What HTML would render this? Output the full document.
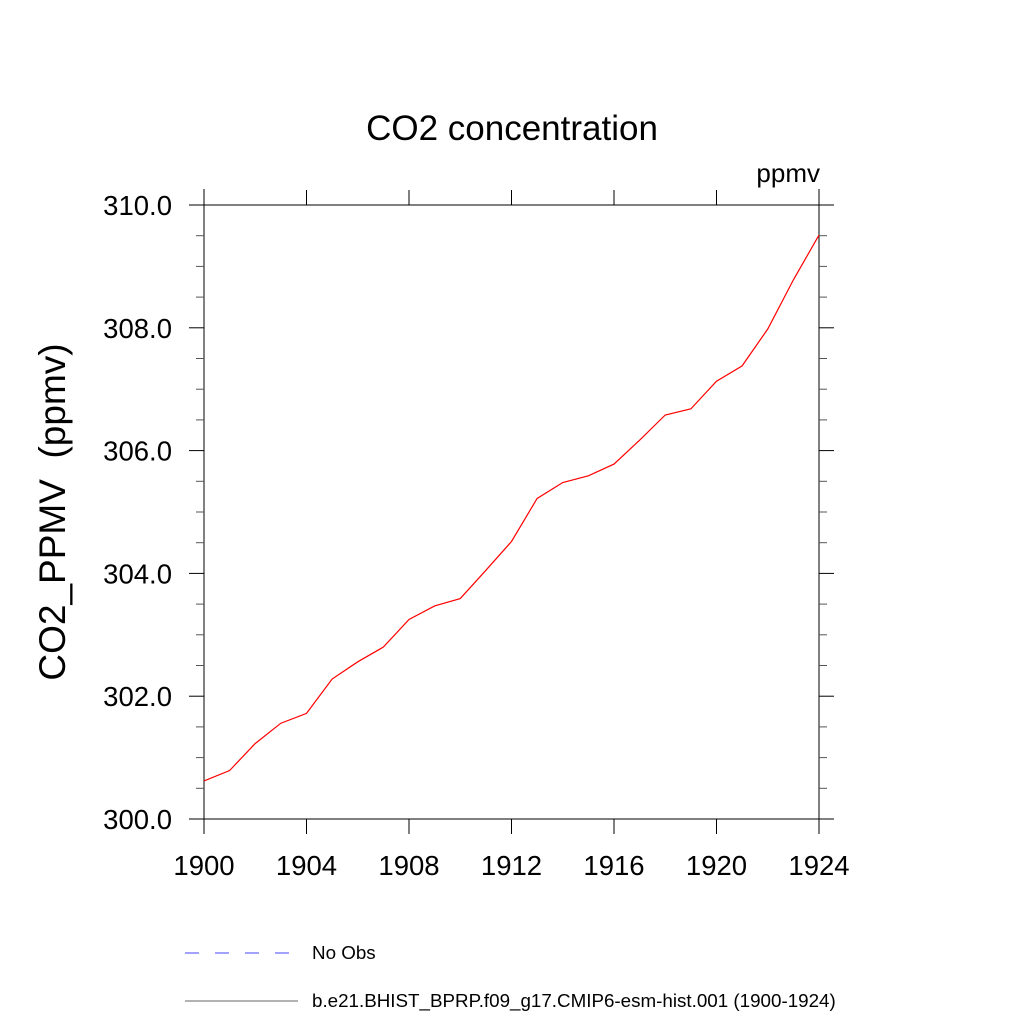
<!DOCTYPE html>
<html><head><meta charset="utf-8"><style>
body{margin:0;background:#fff}
svg text{font-family:"Liberation Sans",sans-serif;fill:#000}
</style></head><body>
<svg id="chart" width="1024" height="1024" viewBox="0 0 1024 1024" xmlns="http://www.w3.org/2000/svg">
<rect width="1024" height="1024" fill="#fff"/>
<text x="512" y="140" font-size="35" text-anchor="middle">CO2 concentration</text>
<text x="820" y="182" font-size="26" text-anchor="end">ppmv</text>
<text transform="translate(65,512) rotate(-90)" font-size="37" text-anchor="middle" xml:space="preserve">CO2_PPMV  (ppmv)</text>
<g id="axes"></g>
<g id="series"></g>
<g>
<line x1="185" y1="953" x2="292" y2="953" stroke="#44f" stroke-width="1" stroke-dasharray="14,16"/>
<text x="312" y="959" font-size="18.8">No Obs</text>
<line x1="185" y1="1001" x2="298" y2="1001" stroke="#666" stroke-width="1"/>
<text x="312" y="1007" font-size="18.8">b.e21.BHIST_BPRP.f09_g17.CMIP6-esm-hist.001 (1900-1924)</text>
</g>
</svg>
<script>
const years=[1900,1901,1902,1903,1904,1905,1906,1907,1908,1909,1910,1911,1912,1913,1914,1915,1916,1917,1918,1919,1920,1921,1922,1923,1924];
const co2=[300.62,300.79,301.23,301.56,301.72,302.28,302.56,302.80,303.25,303.47,303.59,304.05,304.52,305.22,305.48,305.59,305.78,306.17,306.58,306.68,307.13,307.38,307.98,308.78,309.51];
const xTicks=[1900,1904,1908,1912,1916,1920,1924];
const yTicks=[300,302,304,306,308,310];
const yTickLabels=["300.0","302.0","304.0","306.0","308.0","310.0"];
const X0=204,X1=819,Y0=819,Y1=205;
const xs=v=>X0+(v-1900)/(1924-1900)*(X1-X0);
const ys=v=>Y0-(v-300)/(310-300)*(Y0-Y1);
const NS="http://www.w3.org/2000/svg";
const ax=document.getElementById('axes');
function ln(x1,y1,x2,y2,name,c){const l=document.createElementNS(NS,'line');
l.setAttribute('x1',x1);l.setAttribute('y1',y1);l.setAttribute('x2',x2);l.setAttribute('y2',y2);
l.setAttribute('stroke',c||'#000');l.setAttribute('stroke-width','1');


ax.appendChild(l);return l;}
function tx(x,y,s,anchor,name){const t=document.createElementNS(NS,'text');
t.setAttribute('x',x);t.setAttribute('y',y);t.setAttribute('font-size','27.5');t.setAttribute('text-anchor',anchor);t.textContent=s;


ax.appendChild(t);}
ln(189,Y0,834,Y0,'x-axis-bottom');ln(189,Y1,834,Y1,'x-axis-top');
ln(X0,189,X0,834,'y-axis-left');ln(X1,189,X1,834,'y-axis-right');
xTicks.forEach(v=>{const x=xs(v);ln(x,Y0,x,Y0+15,'x-tick');ln(x,Y1,x,Y1-15,'x-tick-top');tx(x,875,String(v),'middle','x-tick-label');});
for(let v=300;v<=310.001;v+=0.5){const y=ys(v);const major=Math.abs(v-Math.round(v/2)*2)<1e-6;const L=major?15:8;
ln(X0-L,y,X0,y,major?'y-tick':'y-minor-tick',major?'#000':'#555');ln(X1,y,X1+L,y,major?'y-tick-right':'y-minor-tick-right',major?'#000':'#555');}
yTicks.forEach((v,i)=>tx(172,ys(v)+10,yTickLabels[i],'end','y-tick-label'));
const p=document.createElementNS(NS,'polyline');
p.setAttribute('points',years.map((y,i)=>xs(y)+','+ys(co2[i])).join(' '));
p.setAttribute('fill','none');p.setAttribute('stroke','#f00');p.setAttribute('stroke-width','1.2');


document.getElementById('series').appendChild(p);
</script>
</body></html>
